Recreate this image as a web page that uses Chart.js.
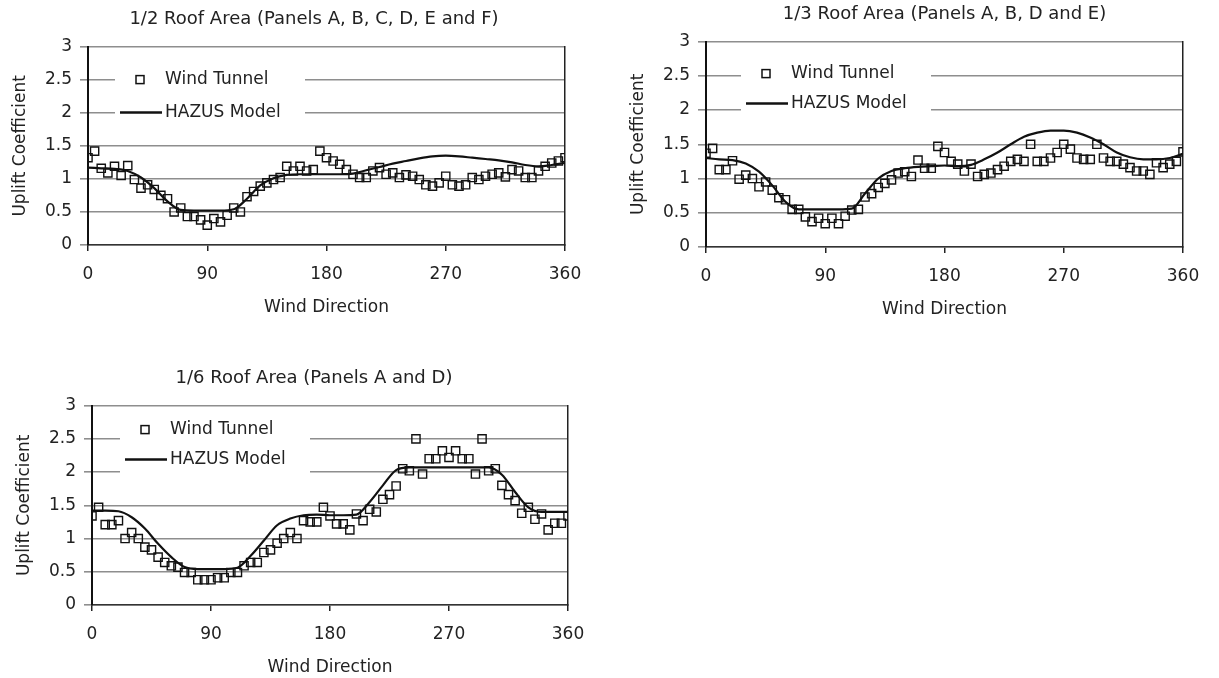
<!DOCTYPE html>
<html>
<head>
<meta charset="utf-8">
<script src="https://cdn.jsdelivr.net/npm/chart.js@4.4.1/dist/chart.umd.min.js"></script>
<style>
  html, body { margin: 0; padding: 0; background: #fff; overflow: hidden; }
  body { width: 1219px; height: 678px; position: relative; }
  canvas { position: absolute; }
  #half  { left: 0;     top: 5px; }
  #third { left: 618px; top: 0; }
  #sixth { left: 4px;   top: 364px; }
</style>
</head>
<body>
<canvas id="half"  width="628" height="325"></canvas>
<canvas id="third" width="601" height="332"></canvas>
<canvas id="sixth" width="620" height="326"></canvas>
<script>
// === UPLIFT COEFFICIENT vs WIND DIRECTION ===

const windTunnelAngles = [
  0, 5, 10, 15, 20, 25, 30, 35, 40, 45, 50, 55, 60, 65, 70, 75, 80, 85, 90,
  95, 100, 105, 110, 115, 120, 125, 130, 135, 140, 145, 150, 155, 160, 165, 170, 175, 180,
  185, 190, 195, 200, 205, 210, 215, 220, 225, 230, 235, 240, 245, 250, 255, 260, 265, 270,
  275, 280, 285, 290, 295, 300, 305, 310, 315, 320, 325, 330, 335, 340, 345, 350, 355, 360,
];
const hazusAngles = [
  0, 10, 20, 30, 40, 50, 60, 70, 80, 90, 100, 110, 120, 130, 140, 150, 160, 170, 180,
  190, 200, 210, 220, 230, 240, 250, 260, 270, 280, 290, 300, 310, 320, 330, 340, 350, 360,
];
const xTicks = [0, 90, 180, 270, 360];

// 1/2 roof area
const halfTunnel = [
  1.32, 1.42, 1.16, 1.09, 1.19, 1.05, 1.20, 0.99, 0.86, 0.91, 0.84, 0.75, 0.70, 0.50, 0.56, 0.43, 0.43, 0.38, 0.30,
  0.40, 0.35, 0.45, 0.56, 0.50, 0.73, 0.81, 0.89, 0.94, 0.99, 1.02, 1.19, 1.12, 1.19, 1.12, 1.14, 1.42, 1.32,
  1.27, 1.22, 1.14, 1.07, 1.02, 1.02, 1.12, 1.17, 1.07, 1.09, 1.02, 1.06, 1.04, 0.99, 0.91, 0.89, 0.94, 1.04,
  0.91, 0.89, 0.91, 1.02, 0.99, 1.04, 1.07, 1.09, 1.03, 1.14, 1.12, 1.02, 1.02, 1.12, 1.19, 1.24, 1.27, 1.32,
];
const halfHazus = [
  1.17, 1.16, 1.15, 1.12, 1.02, 0.86, 0.66, 0.53, 0.52, 0.52, 0.52, 0.54, 0.70, 0.90, 1.01, 1.06, 1.07, 1.07, 1.07,
  1.07, 1.08, 1.13, 1.18, 1.23, 1.27, 1.31, 1.34, 1.35, 1.34, 1.32, 1.30, 1.28, 1.25, 1.21, 1.19, 1.21, 1.24,
];

// 1/3 roof area
const thirdTunnel = [
  1.37, 1.44, 1.13, 1.13, 1.26, 0.99, 1.05, 1.00, 0.88, 0.95, 0.83, 0.72, 0.69, 0.55, 0.55, 0.44, 0.37, 0.42, 0.34,
  0.42, 0.34, 0.45, 0.54, 0.55, 0.73, 0.78, 0.87, 0.93, 0.98, 1.08, 1.10, 1.03, 1.27, 1.15, 1.15, 1.47, 1.38,
  1.25, 1.21, 1.11, 1.21, 1.03, 1.06, 1.08, 1.13, 1.18, 1.25, 1.28, 1.25, 1.50, 1.25, 1.25, 1.30, 1.38, 1.50,
  1.43, 1.30, 1.28, 1.28, 1.50, 1.30, 1.25, 1.25, 1.21, 1.16, 1.11, 1.11, 1.06, 1.23, 1.16, 1.21, 1.25, 1.39,
];
const thirdHazus = [
  1.30, 1.28, 1.27, 1.22, 1.10, 0.90, 0.66, 0.55, 0.55, 0.55, 0.55, 0.56, 0.78, 1.00, 1.11, 1.15, 1.17, 1.18, 1.19,
  1.18, 1.20, 1.28, 1.38, 1.50, 1.61, 1.67, 1.70, 1.70, 1.67, 1.60, 1.50, 1.38, 1.31, 1.28, 1.28, 1.30, 1.36,
];

// 1/6 roof area
const sixthTunnel = [
  1.34, 1.47, 1.21, 1.21, 1.27, 1.00, 1.09, 1.00, 0.87, 0.83, 0.72, 0.64, 0.59, 0.57, 0.49, 0.49, 0.38, 0.38, 0.38,
  0.41, 0.41, 0.49, 0.49, 0.59, 0.64, 0.64, 0.79, 0.83, 0.93, 1.00, 1.09, 1.00, 1.27, 1.25, 1.25, 1.47, 1.34,
  1.22, 1.22, 1.13, 1.37, 1.27, 1.44, 1.40, 1.59, 1.66, 1.79, 2.05, 2.02, 2.50, 1.97, 2.20, 2.20, 2.32, 2.22,
  2.32, 2.20, 2.20, 1.97, 2.50, 2.02, 2.05, 1.80, 1.66, 1.57, 1.38, 1.47, 1.29, 1.37, 1.13, 1.23, 1.23, 1.34,
];
const sixthHazus = [
  1.42, 1.42, 1.41, 1.32, 1.15, 0.92, 0.72, 0.57, 0.54, 0.54, 0.54, 0.56, 0.74, 0.97, 1.20, 1.30, 1.35, 1.36, 1.35,
  1.35, 1.36, 1.55, 1.80, 2.03, 2.07, 2.07, 2.07, 2.07, 2.07, 2.07, 2.07, 1.96, 1.70, 1.47, 1.40, 1.40, 1.40,
];

const FONT   = "'DejaVu Sans', sans-serif";
const INK    = "#222";
const GRID   = "#8e8e8e";

const toPoints = (xs, ys) => xs.map((x, i) => ({ x, y: ys[i] }));

// white inset legend drawn inside the plot, over the gridlines
const insetLegend = {
  id: "insetLegend",
  beforeDatasetsDraw(chart, args, opts) {
    const { ctx, chartArea } = chart;
    const x  = chartArea.left + opts.dx;
    const y1 = chartArea.top + opts.row1;
    const y2 = chartArea.top + opts.row2;
    const [tunnel, hazus] = chart.data.datasets;

    ctx.save();
    ctx.fillStyle = "#fff";
    ctx.fillRect(x - 25, chartArea.top + 12, 190, opts.row2 + 4);

    ctx.strokeStyle = "#111";
    ctx.lineWidth = 1.5;
    ctx.strokeRect(x - 4, y1 - 4, 8, 8);

    ctx.lineWidth = 2.5;
    ctx.beginPath();
    ctx.moveTo(x - 20, y2);
    ctx.lineTo(x + 22, y2);
    ctx.stroke();

    ctx.fillStyle = INK;
    ctx.font = `17px ${FONT}`;
    ctx.textAlign = "left";
    ctx.textBaseline = "middle";
    ctx.fillText(tunnel.label, x + 25, y1);
    ctx.fillText(hazus.label, x + 25, y2);
    ctx.restore();
  },
};

const buildChart = (id, title, tunnelValues, hazusValues, layout) => {
  const ctx = document.getElementById(id).getContext("2d");
  return new Chart(ctx, {
    type: "scatter",
    data: {
      datasets: [
        {
          label: "Wind Tunnel",
          data: toPoints(windTunnelAngles, tunnelValues),
          pointStyle: "rect",
          pointRadius: 5.8,
          pointBorderWidth: 1.4,
          borderColor: "#111",
          backgroundColor: "rgba(255,255,255,0)",
          showLine: false,
        },
        {
          label: "HAZUS Model",
          data: toPoints(hazusAngles, hazusValues),
          showLine: true,
          pointRadius: 0,
          borderColor: "#111",
          borderWidth: 2.2,
          cubicInterpolationMode: "monotone",
        },
      ],
    },
    options: {
      responsive: false,
      animation: false,
      layout: { padding: 0 },
      plugins: {
        legend: { display: false },
        tooltip: { enabled: false },
        title: {
          display: true,
          text: title,
          color: INK,
          fullSize: layout.titleFull,
          font: { family: FONT, size: 18, weight: "normal" },
          padding: { top: 4, bottom: 16 },
        },
        insetLegend: layout.legend,
      },
      scales: {
        x: {
          type: "linear",
          min: 0,
          max: 360,
          afterBuildTicks: (scale) => { scale.ticks = xTicks.map((v) => ({ value: v })); },
          afterFit: (scale) => { scale.height = 85; },
          ticks: { color: INK, font: { family: FONT, size: 17 }, padding: 13, maxRotation: 0 },
          grid: { drawOnChartArea: false, drawTicks: true, tickLength: 6, color: "#222", lineWidth: 1.5 },
          border: { color: "#333", width: 1.5 },
          title: {
            display: true,
            text: "Wind Direction",
            color: INK,
            font: { family: FONT, size: 17 },
            padding: { top: 0, bottom: 12.3 },
          },
        },
        y: {
          min: 0,
          max: 3,
          afterFit: (scale) => { scale.width = 88; },
          ticks: {
            stepSize: 0.5,
            color: INK,
            font: { family: FONT, size: 17 },
            padding: 8,
            callback: (v) => String(v),
          },
          grid: { color: GRID, lineWidth: 1.6, tickLength: 8 },
          border: { color: "#111", width: 2 },
          title: {
            display: true,
            text: "Uplift Coefficient",
            color: INK,
            font: { family: FONT, size: 17 },
            padding: { top: 10.8, bottom: 0 },
          },
        },
        yRight: {
          position: "right",
          min: 0,
          max: 3,
          afterFit: (scale) => { scale.width = layout.rightWidth; },
          ticks: { display: false },
          grid: { display: false },
          border: { color: "#222", width: 1.5 },
        },
      },
    },
    plugins: [insetLegend],
  });
};

buildChart("half", "1/2 Roof Area (Panels A, B, C, D, E and F)", halfTunnel, halfHazus, {
  titleFull: true, rightWidth: 63, legend: { dx: 52, row1: 33, row2: 66 },
});
buildChart("third", "1/3 Roof Area (Panels A, B, D and E)", thirdTunnel, thirdHazus, {
  titleFull: false, rightWidth: 36, legend: { dx: 60, row1: 32, row2: 62 },
});
buildChart("sixth", "1/6 Roof Area (Panels A and D)", sixthTunnel, sixthHazus, {
  titleFull: true, rightWidth: 56, legend: { dx: 53, row1: 24, row2: 54 },
});
</script>
</body>
</html>
